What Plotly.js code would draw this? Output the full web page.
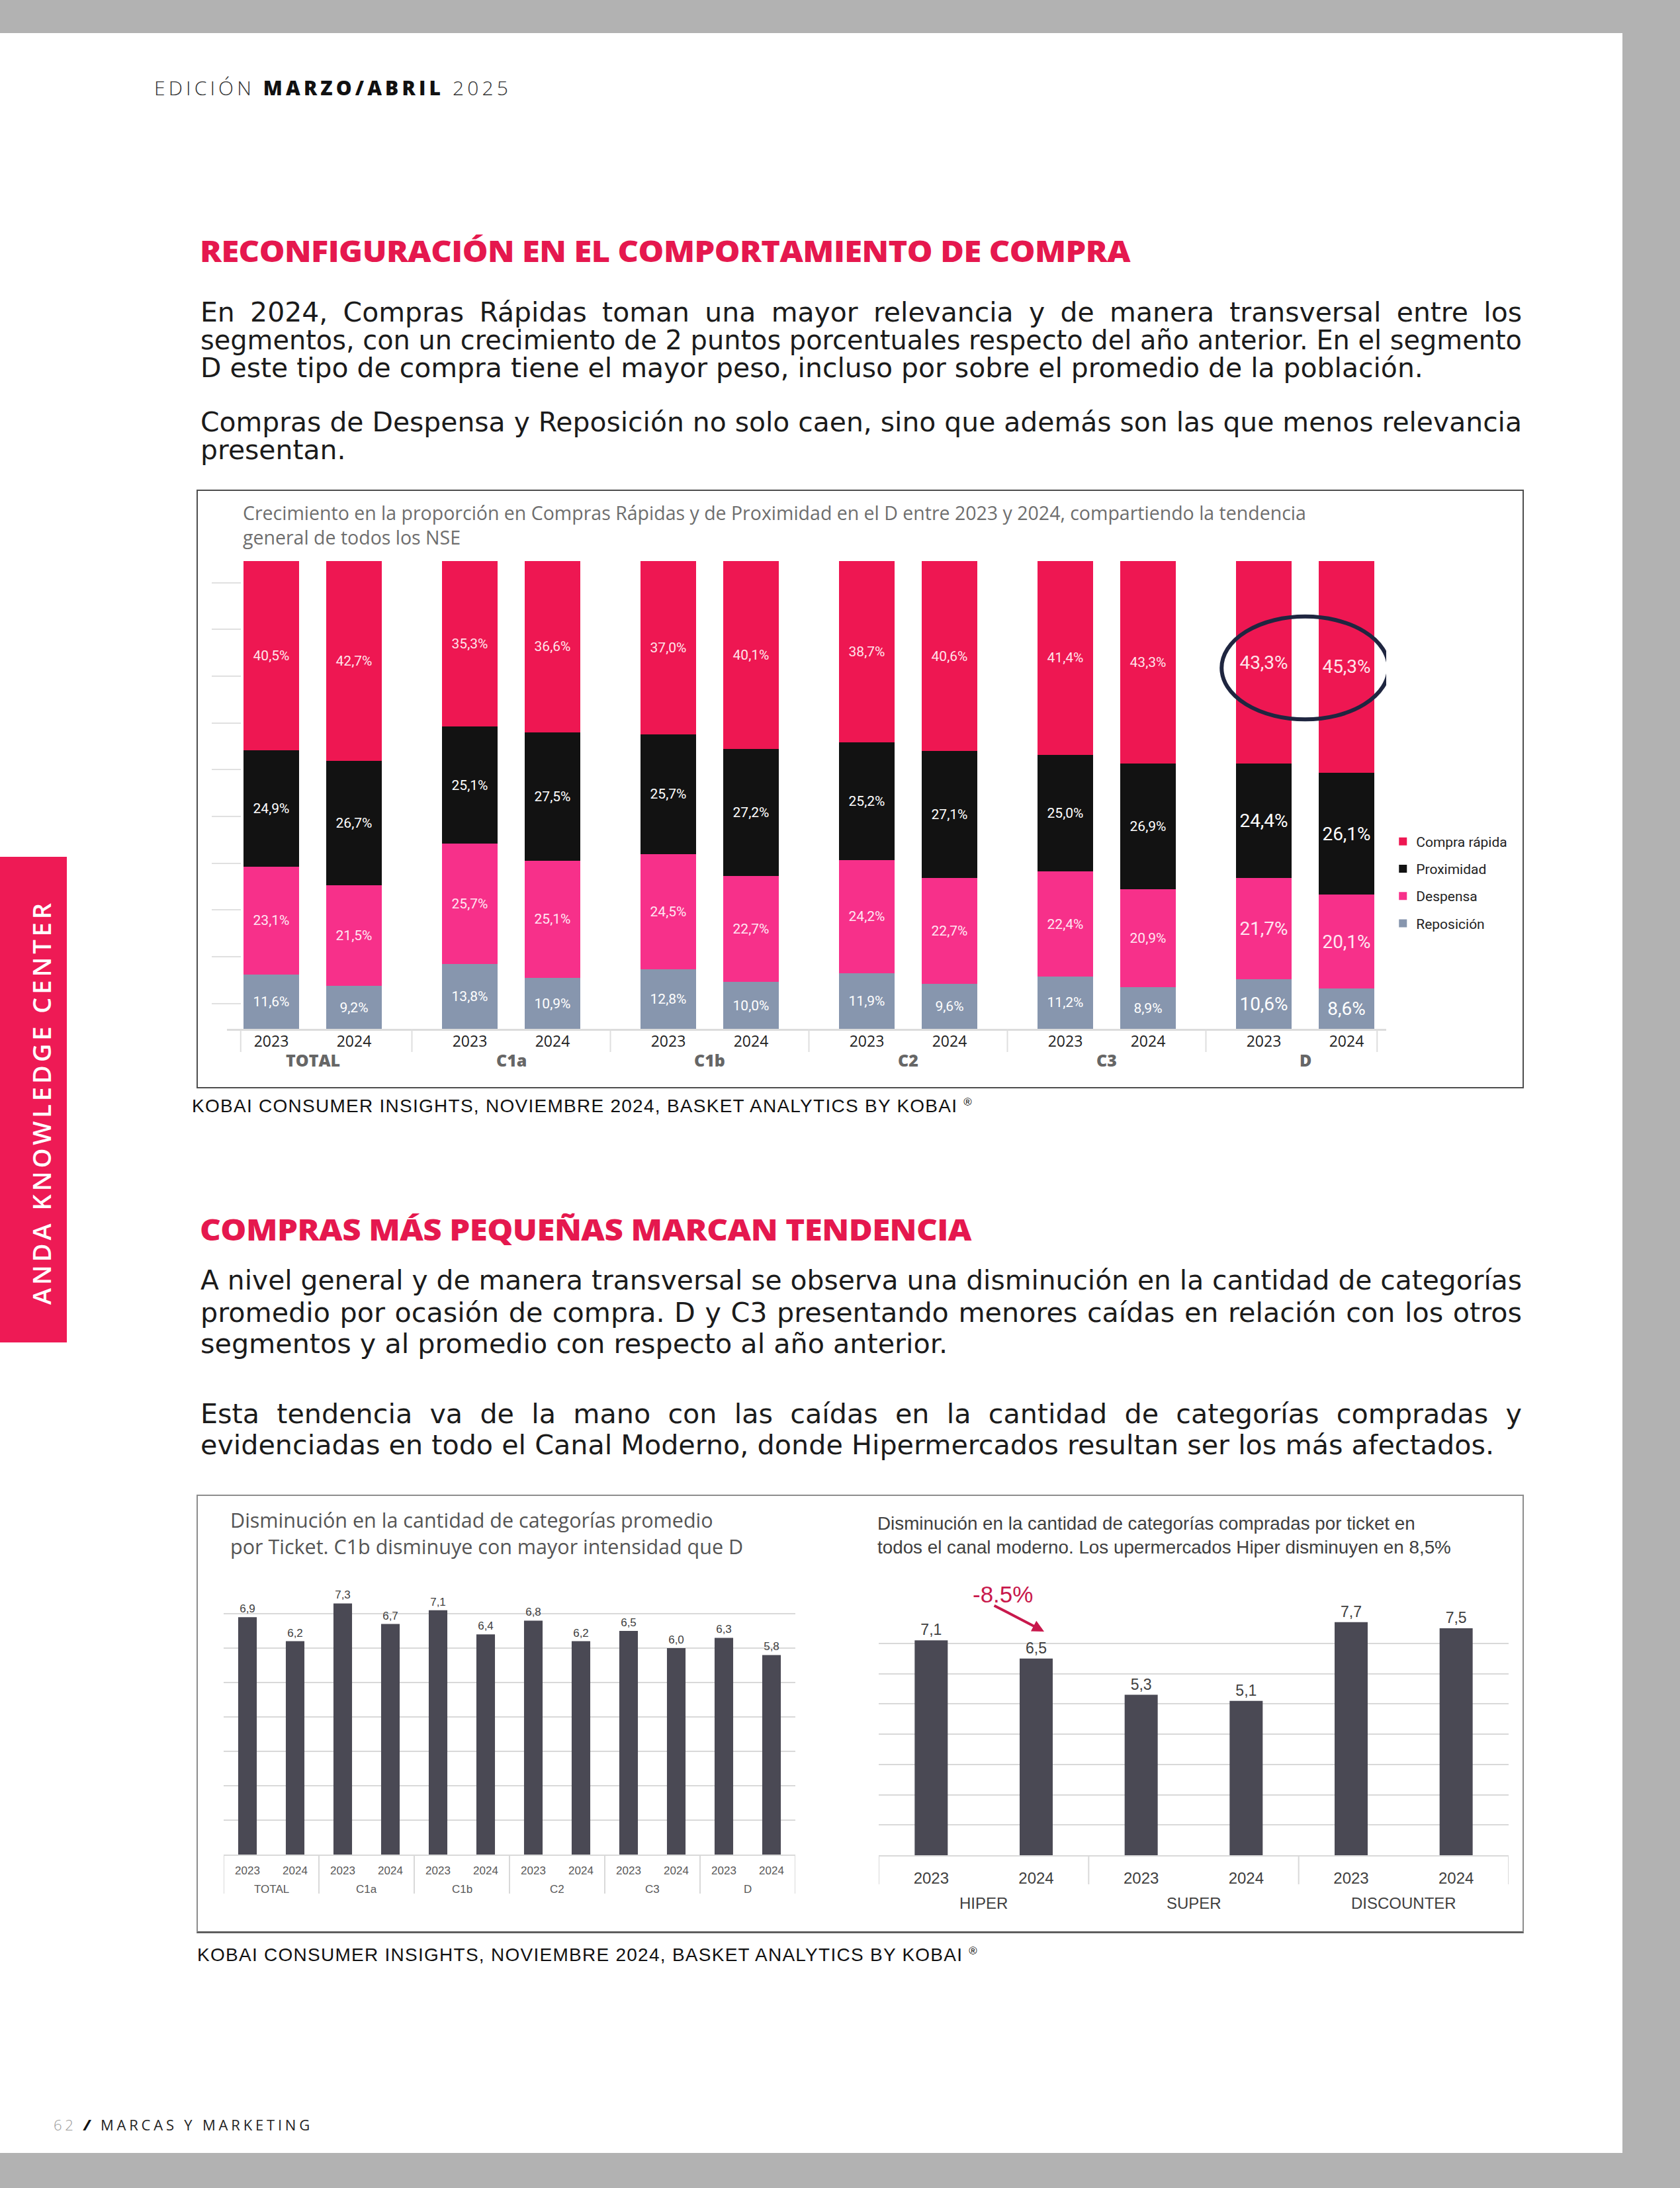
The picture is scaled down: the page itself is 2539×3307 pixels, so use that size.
<!DOCTYPE html>
<html lang="es">
<head>
<meta charset="utf-8">
<title>Reconfiguración en el comportamiento de compra</title>
<script src="https://cdn.plot.ly/plotly-3.0.1.min.js"></script>
<style>
  html, body { margin:0; padding:0; }
  body { width:2539px; height:3307px; background:#b2b2b2; position:relative; overflow:hidden; font-family:"Open Sans", sans-serif; }
  #page { position:absolute; left:0; top:50px; width:2452px; height:3204px; background:#ffffff; }
  .t { position:absolute; white-space:nowrap; line-height:0.95; }
  .box { position:absolute; box-sizing:border-box; pointer-events:none; }
  .chart { position:absolute; }
</style>
</head>
<body>
<div id="page"></div>
<div id="sidebar" style="position:absolute;left:0;top:1295px;width:101px;height:734px;background:#ee1a55;"></div>

<div class="box" style="left:297px;top:740px;width:2006px;height:905px;border:2px solid #4d4d4d;"></div>
<div class="box" style="left:297px;top:2259px;width:2006px;height:663px;border:2px solid #8c8c8c;border-bottom:3px solid #5f5f5f;"></div>

<div id="chart1" class="chart" style="left:297px;top:740px;width:2006px;height:905px;"></div>
<div id="chart2" class="chart" style="left:297px;top:2259px;width:993px;height:662px;"></div>
<div id="chart3" class="chart" style="left:1290px;top:2259px;width:1013px;height:662px;"></div>

<script>
// ---------------- DATA ----------------
// Chart 1: distribution of purchase missions by NSE segment (stacked 100%)
const nseGroups = ["TOTAL", "C1a", "C1b", "C2", "C3", "D"];
const yearLabels = ["2023", "2024"];
const compraRapida = [40.5, 42.7, 35.3, 36.6, 37.0, 40.1, 38.7, 40.6, 41.4, 43.3, 43.3, 45.3];
const proximidad   = [24.9, 26.7, 25.1, 27.5, 25.7, 27.2, 25.2, 27.1, 25.0, 26.9, 24.4, 26.1];
const despensa     = [23.1, 21.5, 25.7, 25.1, 24.5, 22.7, 24.2, 22.7, 22.4, 20.9, 21.7, 20.1];
const reposicion   = [11.6,  9.2, 13.8, 10.9, 12.8, 10.0, 11.9,  9.6, 11.2,  8.9, 10.6,  8.6];

// Chart 2: average categories per ticket by NSE
const ticketSegments = ["TOTAL", "TOTAL", "C1a", "C1a", "C1b", "C1b", "C2", "C2", "C3", "C3", "D", "D"];
const ticketYears    = ["2023", "2024", "2023", "2024", "2023", "2024", "2023", "2024", "2023", "2024", "2023", "2024"];
const ticketAvg      = [6.9, 6.2, 7.3, 6.7, 7.1, 6.4, 6.8, 6.2, 6.5, 6.0, 6.3, 5.8];

// Chart 3: categories per ticket by modern channel format
const channelFormats = ["HIPER", "HIPER", "SUPER", "SUPER", "DISCOUNTER", "DISCOUNTER"];
const channelYears   = ["2023", "2024", "2023", "2024", "2023", "2024"];
const channelAvg     = [7.1, 6.5, 5.3, 5.1, 7.7, 7.5];
const hiperChange    = "-8.5%";

// ---------------- HELPERS ----------------
const fmtPct = v => v.toFixed(1).replace('.', ',') + '%';
const fmt1 = v => v.toFixed(1).replace('.', ',');
const cfg = { staticPlot: true, displayModeBar: false };

// two-level category axis helpers (groups + years) for simple bar charts
function groupInfo(groupArr) {
  const idx = groupArr.map((_, i) => i);
  const bounds = [-0.5];
  const centers = [];
  let start = 0;
  for (let i = 1; i <= groupArr.length; i++) {
    if (i === groupArr.length || groupArr[i] !== groupArr[i - 1]) {
      centers.push({ name: groupArr[start], x: (start + i - 1) / 2 });
      bounds.push(i - 0.5);
      start = i;
    }
  }
  return { idx, bounds, centers };
}

// ---------------- CHART 1 ----------------
const GROUP_STEP = 2.4;   // spacing of groups in axis units (bars within a group are 1 unit apart)
const xPos = [], xYear = [], xGroupIdx = [];
nseGroups.forEach((g, gi) => yearLabels.forEach((y, yi) => {
  xPos.push(gi * GROUP_STEP + yi); xYear.push(y); xGroupIdx.push(gi);
}));
const labelSizes = xGroupIdx.map(gi => nseGroups[gi] === "D" ? 28 : 21);

const chart1Series = [
  { name: "Reposición",    values: reposicion,   color: "#8796ae", txt: "#ffffff", rank: 4 },
  { name: "Despensa",      values: despensa,     color: "#f7308a", txt: "#ffe6f2", rank: 3 },
  { name: "Proximidad",    values: proximidad,   color: "#121212", txt: "#ffffff", rank: 2 },
  { name: "Compra rápida", values: compraRapida, color: "#ee1752", txt: "#ffe4ea", rank: 1 }
];

const traces1 = chart1Series.map(s => ({
  type: "bar", name: s.name, legendgroup: s.name, legendrank: s.rank,
  x: xPos, y: s.values, width: 0.672,
  marker: { color: s.color, line: { width: 0 } },
  text: s.values.map(fmtPct), textposition: "inside", insidetextanchor: "middle",
  textangle: 0, constraintext: "none",
  textfont: { family: "Roboto", size: labelSizes, color: s.txt },
  hoverinfo: "skip"
}));

const lastPos = xPos[xPos.length - 1];
const ann1 = nseGroups.map((g, gi) => ({
  x: gi * GROUP_STEP + 0.5, xref: "x", y: 0, yref: "paper", yshift: -47,
  yanchor: "middle", showarrow: false, text: g,
  font: { family: "Open Sans", size: 25, color: "#666666", weight: 800 }
}));
const sepX = [-0.37];
for (let gi = 0; gi < nseGroups.length - 1; gi++) sepX.push(gi * GROUP_STEP + 1 + (GROUP_STEP - 1) / 2);
sepX.push(lastPos + 0.37);
const shapes1 = sepX.map(x => ({
  type: "line", xref: "x", yref: "paper", ysizemode: "pixel", yanchor: 0,
  x0: x, x1: x, y0: 0, y1: -35, line: { color: "#dedede", width: 2 }
}));
// highlight circle around segment D "Compra rápida" labels
const dIdx = nseGroups.indexOf("D");
const dCenter = dIdx * GROUP_STEP + 0.5;
const dCR = [compraRapida[dIdx * 2], compraRapida[dIdx * 2 + 1]];
const dCy = 100 - (dCR[0] + dCR[1]) / 4 - 0.7;
shapes1.push({
  type: "circle", xref: "x", yref: "y", x0: dCenter - 1.01, x1: dCenter + 1.01,
  y0: dCy - 11, y1: dCy + 11, line: { color: "#1f2640", width: 6 }, layer: "above"
});

Plotly.newPlot("chart1", traces1, {
  width: 2006, height: 905,
  margin: { l: 46, r: 208, t: 108, b: 90 },
  paper_bgcolor: "rgba(0,0,0,0)", plot_bgcolor: "rgba(0,0,0,0)",
  barmode: "stack", barnorm: "percent",
  title: {
    text: "Crecimiento en la proporción en Compras Rápidas y de Proximidad en el D entre 2023 y 2024, compartiendo la tendencia<br>general de todos los NSE",
    x: 70 / 2006, xref: "container", xanchor: "left",
    y: 1 - 46 / 905, yref: "container", yanchor: "top",
    font: { family: "Open Sans", size: 28.5, color: "#6e6e6e" }
  },
  xaxis: {
    range: [-0.536, 13.48], tickmode: "array", tickvals: xPos, ticktext: xYear,
    tickfont: { family: "Open Sans", size: 23, color: "#222222" },
    showline: true, linecolor: "#dcdcdc", linewidth: 3,
    showgrid: false, zeroline: false, ticks: "", ticklabelstandoff: -4
  },
  yaxis: {
    range: [0, 100], showgrid: false, zeroline: false, showticklabels: false,
    anchor: "free", position: 0.012,
    ticks: "outside", tick0: 5.4, dtick: 10, ticklen: 44, tickwidth: 2, tickcolor: "#e0e0e0",
    showline: false
  },
  legend: {
    x: 1.003, xanchor: "left", y: 0.3126, yanchor: "middle",
    traceorder: "grouped", tracegroupgap: 11,
    font: { family: "Roboto", size: 21, color: "#222222" },
    bgcolor: "rgba(0,0,0,0)"
  },
  showlegend: true,
  annotations: ann1,
  shapes: shapes1
}, cfg);

// ---------------- CHART 2 ----------------
const g2 = groupInfo(ticketSegments);
Plotly.newPlot("chart2", [{
  type: "bar", x: g2.idx, y: ticketAvg,
  marker: { color: "#4a4954" },
  text: ticketAvg.map(fmt1), textposition: "outside", cliponaxis: false,
  textfont: { family: "Liberation Sans", size: 17, color: "#404040" },
  hoverinfo: "skip"
}], {
  width: 993, height: 662,
  margin: { l: 41, r: 88, t: 128, b: 118 },
  paper_bgcolor: "rgba(0,0,0,0)", plot_bgcolor: "rgba(0,0,0,0)",
  bargap: 0.61, showlegend: false,
  title: {
    text: "Disminución en la cantidad de categorías promedio<br>por Ticket. C1b disminuye con mayor intensidad que D",
    x: 51 / 993, xref: "container", xanchor: "left",
    y: 1 - 50 / 662, yref: "container", yanchor: "top",
    font: { family: "Open Sans", size: 30.5, color: "#555555" }
  },
  xaxis: {
    range: [-0.5, ticketAvg.length - 0.5], tickmode: "array", tickvals: g2.idx, ticktext: ticketYears,
    tickfont: { family: "Liberation Sans", size: 17, color: "#595959" },
    showline: true, linecolor: "#d9d9d9", linewidth: 2, ticks: "", showgrid: false, zeroline: false,
    ticklabelstandoff: 8
  },
  yaxis: {
    range: [0, 8], tickmode: "array", tickvals: [1, 2, 3, 4, 5, 6, 7], showticklabels: false,
    gridcolor: "#d9d9d9", gridwidth: 2, zeroline: false, showline: false
  },
  annotations: g2.centers.map(c => ({
    x: c.x, xref: "x", y: 0, yref: "paper", yshift: -52, yanchor: "middle", showarrow: false,
    text: c.name, font: { family: "Liberation Sans", size: 17, color: "#595959" }
  })),
  shapes: g2.bounds.map(b => ({
    type: "line", xref: "x", yref: "paper", ysizemode: "pixel", yanchor: 0,
    x0: b, x1: b, y0: 0, y1: -59, line: { color: "#d9d9d9", width: 2 }
  }))
}, cfg);

// ---------------- CHART 3 ----------------
const g3 = groupInfo(channelFormats);
Plotly.newPlot("chart3", [{
  type: "bar", x: g3.idx, y: channelAvg,
  marker: { color: "#4a4954" },
  text: channelAvg.map(fmt1), textposition: "outside", cliponaxis: false,
  textfont: { family: "Liberation Sans", size: 23, color: "#404040" },
  hoverinfo: "skip"
}], {
  width: 1013, height: 662,
  margin: { l: 38, r: 23, t: 179, b: 117 },
  paper_bgcolor: "rgba(0,0,0,0)", plot_bgcolor: "rgba(0,0,0,0)",
  bargap: 0.685, showlegend: false,
  title: {
    text: "Disminución en la cantidad de categorías compradas por ticket en<br>todos el canal moderno. Los upermercados Hiper disminuyen en 8,5%",
    x: 36 / 1013, xref: "container", xanchor: "left",
    y: 1 - 53 / 662, yref: "container", yanchor: "top",
    font: { family: "Liberation Sans", size: 27.8, color: "#404040" }
  },
  xaxis: {
    range: [-0.5, channelAvg.length - 0.5], tickmode: "array", tickvals: g3.idx, ticktext: channelYears,
    tickfont: { family: "Liberation Sans", size: 24, color: "#404040" },
    showline: true, linecolor: "#d9d9d9", linewidth: 2, ticks: "", showgrid: false, zeroline: false,
    ticklabelstandoff: 12
  },
  yaxis: {
    range: [0, 8], tickmode: "array", tickvals: [1, 2, 3, 4, 5, 6, 7, 8], showticklabels: false,
    gridcolor: "#d9d9d9", gridwidth: 2, zeroline: false, showline: false
  },
  annotations: g3.centers.map(c => ({
    x: c.x, xref: "x", y: 0, yref: "paper", yshift: -72, yanchor: "middle", showarrow: false,
    text: c.name, font: { family: "Liberation Sans", size: 24, color: "#404040" }
  })).concat([
    { xref: "x", x: 0.68, xanchor: "center", yref: "paper", y: 8.63 / 8, yanchor: "middle", showarrow: false, text: hiperChange,
      font: { family: "Liberation Sans", size: 35, color: "#c8184c" } },
    { xref: "x", x: 1.076, yref: "y", y: 7.39, ax: -77, ay: -40, text: "",
      showarrow: true, arrowhead: 2, arrowsize: 0.9, arrowwidth: 4, arrowcolor: "#c8184c" }
  ]),
  shapes: g3.bounds.map(b => ({
    type: "line", xref: "x", yref: "paper", ysizemode: "pixel", yanchor: 0,
    x0: b, x1: b, y0: 0, y1: -44, line: { color: "#d9d9d9", width: 2 }
  }))
}, cfg);

// ---------------- PAGE TEXT ----------------
const para1 = [
  "En 2024, Compras Rápidas toman una mayor relevancia y de manera transversal entre los",
  "segmentos, con un crecimiento de 2 puntos porcentuales respecto del año anterior. En el segmento",
  "D este tipo de compra tiene el mayor peso, incluso por sobre el promedio de la población."
];
const para2 = [
  "Compras de Despensa y Reposición no solo caen, sino que además son las que menos relevancia",
  "presentan."
];
const para3 = [
  "A nivel general y de manera transversal se observa una disminución en la cantidad de categorías",
  "promedio por ocasión de compra. D y C3 presentando menores caídas en relación con los otros",
  "segmentos y al promedio con respecto al año anterior."
];
const para4 = [
  "Esta tendencia va de la mano con las caídas en la cantidad de categorías compradas y",
  "evidenciadas en todo el Canal Moderno, donde Hipermercados resultan ser los más afectados."
];

function mk(html, style) {
  const d = document.createElement("div");
  d.className = "t"; d.innerHTML = html;
  Object.assign(d.style, style || {});
  document.body.appendChild(d);
  return d;
}
function fitLS(el, target) {
  el.style.letterSpacing = "0px";
  const w = el.getBoundingClientRect().width;
  const n = el.textContent.length;
  el.style.letterSpacing = ((target - w) / n) + "px";
}
function fitScale(el, target, ls) {
  el.style.letterSpacing = (ls || 0) + "px";
  el.style.transform = "none";
  const w = el.getBoundingClientRect().width;
  el.style.transformOrigin = "left center";
  el.style.transform = "scaleX(" + (target / w) + ")";
}
function placeC(el, x, cy, F, off) {
  el.style.left = x + "px";
  el.style.top = (cy - el.offsetHeight / 2 - (off === undefined ? 0.088 : off) * F) + "px";
}

const BODY_FONT = '"DejaVu Sans", "Open Sans", sans-serif';
const els = {};
function build() {
  els.hdr = mk('<span style="font-weight:300">EDICIÓN </span><span style="font-weight:800;color:#111">MARZO/ABRIL</span><span style="font-weight:300"> 2025</span>',
    { fontSize: "30px", color: "#333" });
  els.t1 = mk("RECONFIGURACIÓN EN EL COMPORTAMIENTO DE COMPRA", { fontSize: "45px", fontWeight: "800", color: "#e5184e" });
  els.t2 = mk("COMPRAS MÁS PEQUEÑAS MARCAN TENDENCIA", { fontSize: "45px", fontWeight: "800", color: "#e5184e" });
  els.p = [para1, para2, para3, para4].map(p => p.map(l => mk(l, { color: "#1b1b1b", fontFamily: BODY_FONT, lineHeight: "1.0" })));
  els.s1 = mk('KOBAI CONSUMER INSIGHTS, NOVIEMBRE 2024, BASKET ANALYTICS BY KOBAI <sup style="font-size:60%">®</sup>',
    { fontFamily: "Liberation Sans", fontSize: "28px", color: "#111" });
  els.s2 = mk('KOBAI CONSUMER INSIGHTS, NOVIEMBRE 2024, BASKET ANALYTICS BY KOBAI <sup style="font-size:60%">®</sup>',
    { fontFamily: "Liberation Sans", fontSize: "28px", color: "#111" });
  els.foot = mk('<span style="color:#9a9a9a;font-weight:300">62</span> <span style="font-weight:800;font-style:italic;color:#111">/</span> <span>MARCAS Y MARKETING</span>',
    { fontSize: "22px", color: "#222" });
  els.side = mk("ANDA KNOWLEDGE CENTER", { fontSize: "38px", fontWeight: "600", color: "#ffffff" });
}

const BODY_LS = 0;
// font size that makes a reference line reach its measured width
function fontFor(lineEl, target) {
  Object.assign(lineEl.style, { fontSize: "40px", letterSpacing: BODY_LS + "px", transform: "none", width: "auto", whiteSpace: "nowrap", textAlign: "left", textAlignLast: "auto" });
  const w = lineEl.getBoundingClientRect().width;
  const n = lineEl.textContent.length;
  return 40 * (target - n * BODY_LS) / (w - n * BODY_LS);
}
function setPara(lines, F, x, ys, width) {
  lines.forEach((el, i) => {
    Object.assign(el.style, { fontSize: F + "px", letterSpacing: BODY_LS + "px", whiteSpace: "nowrap", width: "auto", transform: "none", textAlign: "left", textAlignLast: "auto" });
    const nat = el.getBoundingClientRect().width;
    const last = i === lines.length - 1;
    if (!last) {
      if (nat <= width - 2) {
        Object.assign(el.style, { width: width + "px", whiteSpace: "normal", textAlign: "justify", textAlignLast: "justify" });
      } else {
        el.style.transformOrigin = "left center";
        el.style.transform = "scaleX(" + (width / nat) + ")";
      }
    }
    placeC(el, x, ys[i], F, 0.036);
  });
}

function layoutText() {
  fitLS(els.hdr, 540); placeC(els.hdr, 233, 136, 30);
  fitScale(els.t1, 1406, -0.5); placeC(els.t1, 302, 383, 45);
  fitScale(els.t2, 1166, -0.5); placeC(els.t2, 302, 1862, 45);

  const F1 = fontFor(els.p[0][2], 1848);
  setPara(els.p[0], F1, 303, [474, 516, 558], 1997);
  setPara(els.p[1], F1, 303, [640, 682], 1997);
  const F3 = (fontFor(els.p[2][2], 1124) + fontFor(els.p[3][1], 1965)) / 2;
  setPara(els.p[2], F3, 303, [1937, 1986, 2033], 1997);
  setPara(els.p[3], F3, 303, [2139, 2186], 1997);

  fitLS(els.s1, 1180); placeC(els.s1, 290, 1674, 28);
  fitLS(els.s2, 1180); placeC(els.s2, 298, 2957, 28);
  fitLS(els.foot, 392); placeC(els.foot, 81, 3213, 22);

  els.side.style.transform = "none";
  fitLS(els.side, 612);
  const w = els.side.getBoundingClientRect().width, h = els.side.offsetHeight;
  els.side.style.left = (62 - w / 2) + "px";
  els.side.style.top = (1666 - h / 2) + "px";
  els.side.style.transform = "rotate(-90deg)";
}
build();
layoutText();
if (document.fonts && document.fonts.ready) document.fonts.ready.then(layoutText);
</script>
</body>
</html>
